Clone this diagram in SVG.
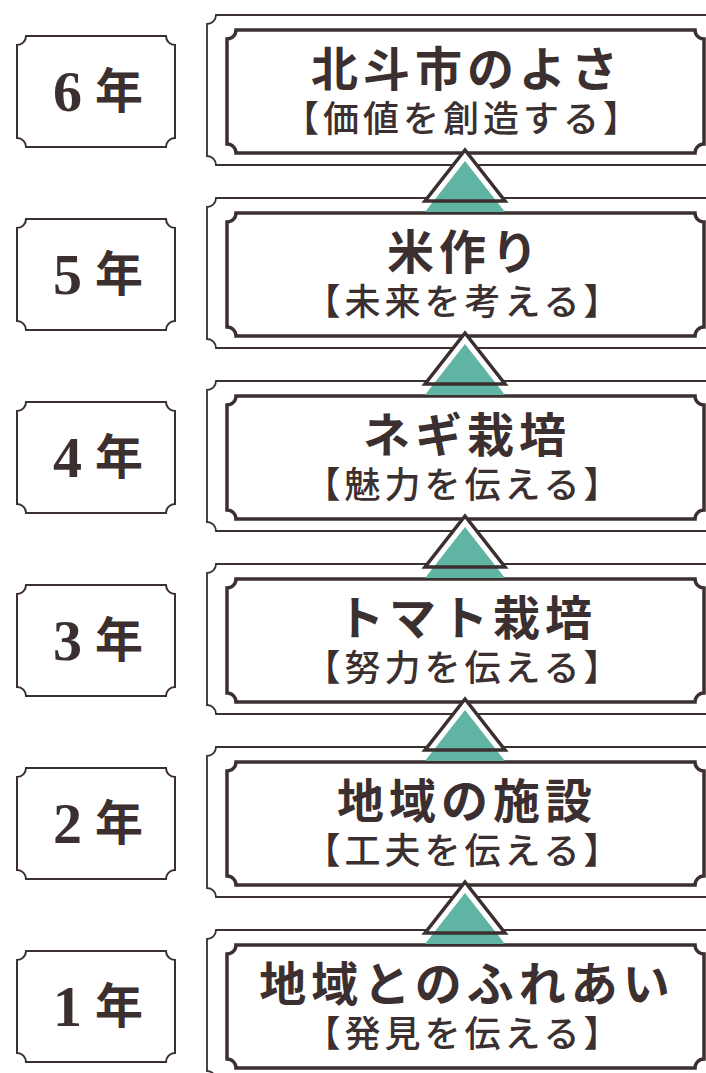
<svg xmlns="http://www.w3.org/2000/svg" xmlns:xlink="http://www.w3.org/1999/xlink" width="706" height="1073" viewBox="0 0 706 1073">
<style>
.yb{fill:#fff;stroke:#3b2f2f;stroke-width:2}
.of{fill:#fff;stroke:#3b2f2f;stroke-width:1.8}
.ib{fill:#fff;stroke:#3b2f2f;stroke-width:3.5}
.yr{fill:#3b2f2f;font-weight:bold}
.dg{font-family:"Liberation Serif","Noto Sans CJK JP",serif;font-size:58px}
.nen{font-family:"Noto Sans CJK JP",sans-serif;font-size:48px}
.tt{font-family:"Noto Sans CJK JP",sans-serif;font-size:47px;font-weight:bold;fill:#3b2f2f;text-anchor:middle;letter-spacing:5px}
.st{font-family:"Noto Sans CJK JP",sans-serif;font-size:36px;font-weight:500;fill:#3b2f2f;text-anchor:middle;letter-spacing:4px}
.tw{fill:#fff;stroke:none}
.tg{fill:#5fb4a4;stroke:none}
.to{fill:none;stroke:#3b2f2f;stroke-width:3.5;stroke-linejoin:miter}
</style>
<defs>
<path id="yearbox" d="M9,0 H149 A9,9 0 0 0 158,9 V102 A9,9 0 0 0 149,111 H9 A9,9 0 0 0 0,102 V9 A9,9 0 0 0 9,0 Z"/>
<path id="outer" d="M9,0 H504 A9,9 0 0 0 513,9 V141 A9,9 0 0 0 504,150 H9 A9,9 0 0 0 0,141 V9 A9,9 0 0 0 9,0 Z"/>
<path id="inner" d="M9,0 H468 A9,9 0 0 0 477,9 V114 A9,9 0 0 0 468,123 H9 A9,9 0 0 0 0,114 V9 A9,9 0 0 0 9,0 Z"/>
<path id="triShape" d="M0,0 L40,51 L-40,51 Z"/>
</defs>

<g id="year6"><use xlink:href="#yearbox" class="yb" x="17" y="36"/><text class="yr" y="111"><tspan class="dg" x="53">6</tspan><tspan class="nen" x="95" y="108">年</tspan></text></g>
<g id="year5"><use xlink:href="#yearbox" class="yb" x="17" y="219"/><text class="yr" y="294"><tspan class="dg" x="53">5</tspan><tspan class="nen" x="95" y="291">年</tspan></text></g>
<g id="year4"><use xlink:href="#yearbox" class="yb" x="17" y="402"/><text class="yr" y="477"><tspan class="dg" x="53">4</tspan><tspan class="nen" x="95" y="474">年</tspan></text></g>
<g id="year3"><use xlink:href="#yearbox" class="yb" x="17" y="585"/><text class="yr" y="660"><tspan class="dg" x="53">3</tspan><tspan class="nen" x="95" y="657">年</tspan></text></g>
<g id="year2"><use xlink:href="#yearbox" class="yb" x="17" y="768"/><text class="yr" y="843"><tspan class="dg" x="53">2</tspan><tspan class="nen" x="95" y="840">年</tspan></text></g>
<g id="year1"><use xlink:href="#yearbox" class="yb" x="17" y="951"/><text class="yr" y="1026"><tspan class="dg" x="53">1</tspan><tspan class="nen" x="95" y="1023">年</tspan></text></g>

<g id="stage6"><use xlink:href="#outer" class="of" x="207" y="15"/><use xlink:href="#inner" class="ib" x="227" y="30"/><text class="tt" x="467" y="86">北斗市のよさ</text><text class="st" x="463" y="132">【価値を創造する】</text></g>
<g id="stage5"><use xlink:href="#outer" class="of" x="207" y="198"/><use xlink:href="#inner" class="ib" x="227" y="213"/><text class="tt" x="465" y="269">米作り</text><text class="st" x="464" y="315">【未来を考える】</text></g>
<g id="stage4"><use xlink:href="#outer" class="of" x="207" y="381"/><use xlink:href="#inner" class="ib" x="227" y="396"/><text class="tt" x="467" y="452">ネギ栽培</text><text class="st" x="464" y="498">【魅力を伝える】</text></g>
<g id="stage3"><use xlink:href="#outer" class="of" x="207" y="564"/><use xlink:href="#inner" class="ib" x="227" y="579"/><text class="tt" x="467" y="635">トマト栽培</text><text class="st" x="464" y="681">【努力を伝える】</text></g>
<g id="stage2"><use xlink:href="#outer" class="of" x="207" y="747"/><use xlink:href="#inner" class="ib" x="227" y="762"/><text class="tt" x="467" y="818">地域の施設</text><text class="st" x="464" y="864">【工夫を伝える】</text></g>
<g id="stage1"><use xlink:href="#outer" class="of" x="207" y="930"/><use xlink:href="#inner" class="ib" x="227" y="945"/><text class="tt" x="467" y="1001">地域とのふれあい</text><text class="st" x="464" y="1047">【発見を伝える】</text></g>

<g id="connectors">
<g transform="translate(465,150)"><use xlink:href="#triShape" class="tw"/><use xlink:href="#triShape" class="tg" y="11"/><use xlink:href="#triShape" class="to"/></g>
<g transform="translate(465,333)"><use xlink:href="#triShape" class="tw"/><use xlink:href="#triShape" class="tg" y="11"/><use xlink:href="#triShape" class="to"/></g>
<g transform="translate(465,516)"><use xlink:href="#triShape" class="tw"/><use xlink:href="#triShape" class="tg" y="11"/><use xlink:href="#triShape" class="to"/></g>
<g transform="translate(465,699)"><use xlink:href="#triShape" class="tw"/><use xlink:href="#triShape" class="tg" y="11"/><use xlink:href="#triShape" class="to"/></g>
<g transform="translate(465,882)"><use xlink:href="#triShape" class="tw"/><use xlink:href="#triShape" class="tg" y="11"/><use xlink:href="#triShape" class="to"/></g>
</g>
</svg>
